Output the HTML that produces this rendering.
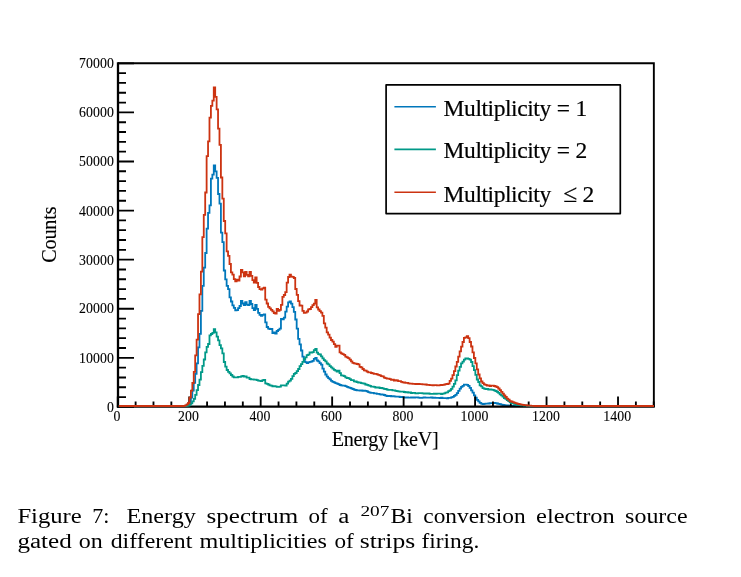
<!DOCTYPE html>
<html lang="en">
<head>
<meta charset="utf-8">
<title>Figure 7: Energy spectrum of a 207Bi conversion electron source</title>
<style>
html,body{margin:0;padding:0;background:#fff;}
body{width:741px;height:577px;overflow:hidden;font-family:"Liberation Serif",serif;}
svg{display:block;}
</style>
</head>
<body>
<svg width="741" height="577" viewBox="0 0 741 577">
<rect width="741" height="577" fill="#fff"/>
<g fill="none" stroke-width="1.8" stroke-linejoin="miter">
<path stroke="#0077bb" d="M118.80,406.0H185.18V405.8H186.61V405.2H188.04V404.1H189.47V402.3H190.90V397.5H192.33V390.5H193.75V382.8H195.18V373.8H196.61V363.4H198.04V347.4H199.47V333.8H200.90V310.9H202.33V285.8H203.76V267.7H205.19V253.0H206.62V228.6H208.05V212.8H209.48V205.3H210.91V178.7H212.34V174.7H213.77V165.5H215.19V171.3H216.62V177.9H218.05V194.0H219.48V203.6H220.91V232.7H222.34V242.2H223.77V270.5H225.20V279.4H226.63V285.8H228.06V289.1H229.49V297.4H230.92V301.5H232.35V305.3H233.78V307.8H235.21V310.4H236.63V310.1H238.06V308.1H239.49V306.0H240.92V300.8H242.35V303.5H243.78V305.2H245.21V302.2H246.64V304.7H248.07V305.1H249.50V300.8H250.93V304.0H252.36V308.1H253.79V310.2H255.22V304.9H256.65V308.9H258.07V312.9H259.50V314.8H260.93V315.8H262.36V314.9H263.79V314.3H265.22V322.4H266.65V327.0H268.08V328.7H269.51V329.0H270.94V328.8H272.37V333.1H273.80V332.5H275.23V333.5H276.66V331.0H278.09V329.9H279.51V328.7H280.94V318.9H282.37V319.4H283.80V317.6H285.23V311.7H286.66V306.6H288.09V302.3H289.52V301.4H290.95V303.7H292.38V307.1H293.81V311.9H295.24V319.5H296.67V328.6H298.10V338.8H299.53V344.4H300.95V350.5H302.38V356.6H303.81V361.1H305.24V362.1H306.67V363.2H308.10V362.4H309.53V361.9H310.96V361.7H312.39V360.8H313.82V358.9H315.25V357.8H316.68V360.5H318.11V361.3H319.54V363.2H320.97V364.7H322.39V368.6H323.82V371.7H325.25V374.5H326.68V376.6H328.11V378.2H329.54V379.4H330.97V380.8H332.40V381.8H333.83V382.4H335.26V383.1H336.69V383.6H338.12V384.1H339.55V385.0H340.98V385.3H342.41V385.6H343.83V385.7H345.26V386.1H346.69V386.8H348.12V387.3H349.55V387.9H350.98V388.3H352.41V389.0H353.84V389.6H355.27V390.0H356.70V390.4H358.13V390.4H359.56V390.6H360.99V390.5H362.42V390.8H363.85V390.7H365.27V390.9H366.70V391.4H368.13V392.2H369.56V392.6H370.99V392.9H373.85V393.3H375.28V393.3H376.71V393.9H379.57V394.3H381.00V394.5H382.43V394.6H383.86V395.0H385.29V395.6H386.71V396.0H388.14V395.8H389.57V396.0H391.00V396.3H392.43V396.2H393.86V396.3H395.29V396.6H396.72V396.7H399.58V397.1H401.01V397.0H402.44V397.2H403.87V397.5H405.30V397.7H406.73V397.4H408.15V397.6H409.58V397.7H411.01V397.4H412.44V397.5H415.30V397.4H418.16V397.6H419.59V397.8H422.45V397.6H423.88V397.4H425.31V397.6H428.17V397.7H431.02V397.5H432.45V397.8H433.88V397.6H435.31V397.8H436.74V397.9H439.60V398.2H441.03V397.7H442.46V398.1H443.89V398.2H445.32V398.1H446.75V398.3H448.18V397.9H449.61V397.9H451.03V397.4H452.46V396.9H453.89V395.9H455.32V394.9H456.75V393.1H458.18V390.9H459.61V388.6H461.04V386.9H462.47V385.8H463.90V384.7H466.76V384.9H468.19V386.0H469.62V387.8H471.05V390.4H472.47V392.7H473.90V395.4H475.33V397.7H476.76V399.8H478.19V401.4H479.62V402.9H481.05V403.6H482.48V404.0H483.91V403.8H485.34V403.7H486.77V403.6H488.20V403.5H489.63V403.2H491.06V403.1H493.91V403.0H495.34V403.1H496.77V403.5H498.20V403.9H499.63V404.2H501.06V404.6H502.49V405.0H503.92V405.2H505.35V405.3H506.78V405.5H508.21V405.6H509.64V405.8H511.07V405.9H512.50V406.0H654.00"/>
</g>
<g fill="none" stroke="#000">
<path d="M118.0,63.3H653.85V406.9" stroke-width="1.9"/>
<path d="M118.0,62.349999999999994V407.79999999999995" stroke-width="2.3"/>
<path d="M116.9,406.65H654.8" stroke-width="2.3"/>
<path d="M118.0,406.9h16M118.0,397.08h8M118.0,387.27h8M118.0,377.45h8M118.0,367.63h8M118.0,357.81h16M118.0,348h8M118.0,338.18h8M118.0,328.36h8M118.0,318.55h8M118.0,308.73h16M118.0,298.91h8M118.0,289.09h8M118.0,279.28h8M118.0,269.46h8M118.0,259.64h16M118.0,249.83h8M118.0,240.01h8M118.0,230.19h8M118.0,220.37h8M118.0,210.56h16M118.0,200.74h8M118.0,190.92h8M118.0,181.11h8M118.0,171.29h8M118.0,161.47h16M118.0,151.65h8M118.0,141.84h8M118.0,132.02h8M118.0,122.2h8M118.0,112.39h16M118.0,102.57h8M118.0,92.75h8M118.0,82.93h8M118.0,73.12h8M118.0,63.3h16" stroke-width="1.85"/>
<path d="M117.75,406.9v-10.3M135.62,406.9v-5.4M153.48,406.9v-5.4M171.35,406.9v-5.4M189.22,406.9v-10.3M207.08,406.9v-5.4M224.95,406.9v-5.4M242.82,406.9v-5.4M260.68,406.9v-10.3M278.55,406.9v-5.4M296.42,406.9v-5.4M314.28,406.9v-5.4M332.15,406.9v-10.3M350.02,406.9v-5.4M367.88,406.9v-5.4M385.75,406.9v-5.4M403.62,406.9v-10.3M421.48,406.9v-5.4M439.35,406.9v-5.4M457.22,406.9v-5.4M475.08,406.9v-10.3M492.95,406.9v-5.4M510.82,406.9v-5.4M528.68,406.9v-5.4M546.55,406.9v-10.3M564.42,406.9v-5.4M582.28,406.9v-5.4M600.15,406.9v-5.4M618.02,406.9v-10.3M635.88,406.9v-5.4M653.75,406.9v-5.4" stroke-width="1.85"/>
</g>
<g fill="none" stroke-width="1.8" stroke-linejoin="miter">
<path stroke="#009988" d="M118.80,406.0H186.61V405.9H188.04V405.5H189.47V404.7H190.90V403.4H192.33V401.3H193.75V398.8H195.18V394.9H196.61V390.2H198.04V385.0H199.47V379.7H200.90V372.1H202.33V365.9H203.76V359.5H205.19V352.3H206.62V346.8H208.05V344.0H209.48V335.4H210.91V334.0H212.34V332.8H213.77V329.2H215.19V332.4H216.62V336.7H218.05V340.3H219.48V345.1H220.91V348.4H222.34V353.3H223.77V362.0H225.20V366.6H226.63V370.0H228.06V371.9H229.49V373.3H230.92V375.0H232.35V376.5H233.78V377.4H238.06V376.9H239.49V376.8H240.92V376.3H242.35V375.8H243.78V376.5H245.21V376.4H246.64V377.6H248.07V377.7H249.50V379.0H250.93V379.3H253.79V379.7H255.22V379.6H256.65V380.1H258.07V380.7H259.50V380.8H260.93V381.2H262.36V380.2H263.79V379.9H265.22V383.3H266.65V383.8H268.08V384.5H269.51V385.4H270.94V385.6H272.37V386.4H273.80V386.1H275.23V386.4H276.66V386.8H278.09V386.9H279.51V386.7H280.94V385.3H283.80V385.4H285.23V385.7H286.66V383.6H288.09V381.6H289.52V380.6H290.95V378.8H292.38V376.2H293.81V373.8H295.24V373.0H296.67V371.2H298.10V369.0H299.53V366.2H300.95V364.1H302.38V361.9H303.81V359.0H305.24V357.4H306.67V355.2H308.10V354.6H309.53V352.3H310.96V352.7H312.39V352.1H313.82V350.2H315.25V349.0H316.68V352.7H318.11V354.1H319.54V354.5H320.97V356.3H322.39V358.3H323.82V360.2H325.25V361.3H326.68V363.5H328.11V364.3H329.54V366.2H330.97V367.4H332.40V368.6H333.83V369.9H335.26V370.7H336.69V371.5H338.12V370.7H339.55V373.1H340.98V375.3H342.41V375.7H343.83V376.2H345.26V377.3H346.69V378.0H348.12V378.1H349.55V379.1H350.98V380.1H352.41V380.2H353.84V381.3H355.27V381.5H356.70V382.2H358.13V382.5H359.56V382.6H360.99V383.1H362.42V383.3H363.85V383.7H365.27V384.5H366.70V384.9H368.13V385.3H369.56V385.9H370.99V386.6H372.42V386.6H373.85V386.9H375.28V387.5H379.57V388.2H381.00V387.9H382.43V388.4H383.86V388.8H385.29V389.0H386.71V389.6H388.14V389.9H391.00V389.8H392.43V390.4H393.86V390.3H395.29V390.9H396.72V391.2H398.15V391.3H399.58V391.7H403.87V392.0H405.30V392.4H406.73V392.1H408.15V392.6H409.58V392.5H411.01V393.2H412.44V392.8H415.30V393.3H418.16V393.1H419.59V393.2H421.02V393.1H422.45V393.3H423.88V393.5H426.74V393.5H429.59V393.8H431.02V393.9H433.88V393.6H435.31V393.8H436.74V393.6H439.60V393.7H441.03V394.0H442.46V393.6H443.89V393.3H445.32V392.7H446.75V392.4H448.18V391.1H449.61V390.4H451.03V388.8H452.46V386.7H453.89V383.9H455.32V380.3H456.75V375.2H458.18V370.7H459.61V366.9H461.04V363.4H462.47V361.7H463.90V359.7H465.33V358.5H466.76V358.4H468.19V358.9H469.62V359.6H471.05V362.0H472.47V366.1H473.90V370.2H475.33V374.8H476.76V379.5H478.19V382.0H479.62V385.4H481.05V386.4H482.48V388.1H483.91V388.7H485.34V389.2H486.77V388.8H488.20V389.6H489.63V389.4H491.06V389.6H492.49V389.9H493.91V390.3H495.34V391.0H496.77V391.8H498.20V392.9H499.63V394.3H501.06V395.4H502.49V396.7H503.92V398.1H505.35V398.9H506.78V400.1H508.21V401.1H509.64V402.1H511.07V403.0H512.50V403.4H513.93V403.9H515.35V404.5H516.78V404.8H518.21V404.9H519.64V405.1H521.07V405.3H522.50V405.4H523.93V405.5H525.36V405.7H526.79V405.8H528.22V405.9H529.65V406.0H654.00"/>
<path stroke="#cc3311" d="M118.80,406.0H183.75V405.8H185.18V405.3H186.61V404.3H188.04V403.0H189.47V397.6H190.90V390.6H192.33V383.0H193.75V371.8H195.18V355.4H196.61V339.7H198.04V314.1H199.47V294.4H200.90V271.7H202.33V237.2H203.76V214.9H205.19V192.5H206.62V156.2H208.05V141.4H209.48V117.6H210.91V105.9H212.34V100.6H213.77V87.4H215.19V96.9H216.62V109.4H218.05V128.6H219.48V144.8H220.91V177.5H222.34V198.6H223.77V221.0H225.20V233.4H226.63V251.3H228.06V255.9H229.49V264.0H230.92V272.4H232.35V274.6H233.78V279.2H235.21V281.3H236.63V279.6H238.06V280.7H239.49V276.5H240.92V270.0H242.35V272.4H243.78V276.4H245.21V272.0H246.64V274.8H248.07V276.3H249.50V272.0H250.93V275.8H252.36V280.2H253.79V282.7H255.22V277.4H256.65V282.8H258.07V287.0H259.50V289.1H260.93V289.7H262.36V288.3H263.79V287.6H265.22V299.7H266.65V303.5H268.08V306.9H269.51V308.4H270.94V309.8H272.37V311.4H273.80V313.0H275.23V313.6H276.66V308.8H278.09V310.9H279.51V309.9H280.94V304.8H282.37V296.8H283.80V295.0H285.23V292.1H286.66V282.6H288.09V277.0H289.52V274.6H290.95V276.7H292.38V276.9H293.81V278.0H295.24V289.0H296.67V294.8H298.10V301.1H299.53V305.5H300.95V305.6H302.38V310.9H303.81V312.9H305.24V312.7H306.67V311.5H308.10V309.4H309.53V309.0H310.96V307.2H312.39V305.1H313.82V303.6H315.25V300.0H316.68V307.3H318.11V309.5H319.54V311.1H320.97V312.7H322.39V315.9H323.82V323.3H325.25V327.6H326.68V332.3H328.11V334.7H329.54V337.7H330.97V340.0H332.40V341.7H333.83V344.1H335.26V346.8H336.69V345.7H339.55V352.4H340.98V353.4H342.41V354.2H343.83V354.9H345.26V356.6H346.69V357.3H348.12V358.2H349.55V359.7H350.98V361.4H352.41V362.9H353.84V363.4H355.27V363.6H356.70V364.0H358.13V364.3H359.56V366.8H360.99V367.4H362.42V369.0H363.85V370.3H365.27V370.6H366.70V371.6H368.13V372.3H369.56V372.4H370.99V373.0H372.42V373.3H373.85V373.8H375.28V373.9H376.71V374.3H378.14V374.8H379.57V375.4H381.00V376.2H382.43V376.4H383.86V377.6H385.29V378.1H386.71V378.6H389.57V379.1H391.00V379.8H392.43V379.7H393.86V380.5H395.29V380.2H396.72V380.5H398.15V381.1H401.01V381.8H402.44V382.3H403.87V382.5H405.30V382.8H406.73V382.9H408.15V383.4H409.58V383.6H412.44V383.8H415.30V384.0H418.16V384.0H419.59V384.1H421.02V384.2H422.45V384.3H423.88V384.4H425.31V384.5H426.74V384.9H428.17V384.8H429.59V385.1H432.45V385.4H433.88V385.1H435.31V385.2H436.74V385.4H439.60V385.2H441.03V385.0H442.46V384.9H443.89V384.6H445.32V384.1H446.75V384.0H448.18V383.7H449.61V380.9H451.03V378.7H452.46V375.2H453.89V371.2H455.32V366.5H456.75V361.9H458.18V356.6H459.61V351.4H461.04V346.6H462.47V342.0H463.90V337.8H465.33V337.3H466.76V336.1H468.19V338.1H469.62V342.0H471.05V346.5H472.47V352.3H473.90V358.0H475.33V363.3H476.76V369.3H478.19V374.5H479.62V378.3H481.05V381.5H482.48V383.2H483.91V384.4H485.34V384.9H486.77V385.7H488.20V385.4H489.63V386.0H491.06V385.6H493.91V386.0H495.34V386.5H496.77V387.1H498.20V388.5H499.63V390.2H501.06V391.9H502.49V393.7H503.92V395.3H505.35V397.0H506.78V398.7H508.21V399.7H509.64V401.1H511.07V401.5H512.50V402.1H513.93V402.7H515.35V403.2H516.78V403.6H518.21V404.0H519.64V404.3H521.07V404.6H522.50V404.9H523.93V405.1H525.36V405.2H526.79V405.5H528.22V405.6H529.65V405.7H531.08V405.8H532.51V405.9H533.94V406.0H654.00"/>
</g>
<g font-family="'Liberation Serif', serif" font-size="13.8" letter-spacing="0.1" fill="#000" stroke="#000" stroke-width="0.1">
<text x="114" y="411.7" text-anchor="end">0</text>
<text x="114" y="363.1" text-anchor="end">10000</text>
<text x="114" y="313.3" text-anchor="end">20000</text>
<text x="114" y="265.1" text-anchor="end">30000</text>
<text x="114" y="216.1" text-anchor="end">40000</text>
<text x="114" y="166.1" text-anchor="end">50000</text>
<text x="114" y="116.8" text-anchor="end">60000</text>
<text x="114" y="67.9" text-anchor="end">70000</text>
<text x="117.1" y="420.9" text-anchor="middle">0</text>
<text x="188.57" y="420.9" text-anchor="middle">200</text>
<text x="260.03" y="420.9" text-anchor="middle">400</text>
<text x="331.5" y="420.9" text-anchor="middle">600</text>
<text x="402.97" y="420.9" text-anchor="middle">800</text>
<text x="474.43" y="420.9" text-anchor="middle">1000</text>
<text x="545.9" y="420.9" text-anchor="middle">1200</text>
<text x="617.37" y="420.9" text-anchor="middle">1400</text>
</g>
<g font-family="'Liberation Serif', serif" font-size="20.2" fill="#000" stroke="#000" stroke-width="0.1">
<text x="385.1" y="446" text-anchor="middle" letter-spacing="-0.27">Energy [keV]</text>
<text transform="translate(56.3,234.7) rotate(-90)" text-anchor="middle" letter-spacing="-0.15">Counts</text>
</g>
<rect x="386.1" y="84.9" width="234.2" height="128.7" fill="#fff" stroke="#000" stroke-width="1.7" stroke-linejoin="round"/>
<g fill="none" stroke-width="1.65">
<path stroke="#0077bb" d="M394.4,106.75H435.9"/>
<path stroke="#009988" d="M394.4,149.35H435.9"/>
<path stroke="#cc3311" d="M394.4,192.25H435.9"/>
</g>
<g font-family="'Liberation Serif', serif" font-size="23.5" fill="#000" stroke="#000" stroke-width="0.2">
<text y="115.6"><tspan x="443.6" letter-spacing="-0.43">Multiplicity</tspan> <tspan x="556.7">=</tspan> <tspan x="575.4">1</tspan></text>
<text y="158.3"><tspan x="443.6" letter-spacing="-0.43">Multiplicity</tspan> <tspan x="556.7">=</tspan> <tspan x="575.4">2</tspan></text>
<text y="201.5"><tspan x="443.6" letter-spacing="-0.43">Multiplicity</tspan> <tspan x="563.3" font-size="25.5">≤</tspan> <tspan x="582.5">2</tspan></text>
</g>
<g font-family="'Liberation Serif', serif" font-size="20" fill="#000">
<text><tspan x="17.4" y="523" textLength="64.4" lengthAdjust="spacingAndGlyphs">Figure</tspan> <tspan x="92.2" y="523" textLength="17.2" lengthAdjust="spacingAndGlyphs">7:</tspan> <tspan x="126.6" y="523" textLength="69.2" lengthAdjust="spacingAndGlyphs">Energy</tspan> <tspan x="206.6" y="523" textLength="91.6" lengthAdjust="spacingAndGlyphs">spectrum</tspan> <tspan x="308.6" y="523" textLength="19.2" lengthAdjust="spacingAndGlyphs">of</tspan> <tspan x="338.3" y="523" textLength="11.1" lengthAdjust="spacingAndGlyphs">a</tspan> <tspan x="360.4" y="516" font-size="15" textLength="29" lengthAdjust="spacingAndGlyphs">207</tspan><tspan x="390.5" y="523" textLength="22.3" lengthAdjust="spacingAndGlyphs">Bi</tspan> <tspan x="423.3" y="523" textLength="102.4" lengthAdjust="spacingAndGlyphs">conversion</tspan> <tspan x="536.1" y="523" textLength="78.7" lengthAdjust="spacingAndGlyphs">electron</tspan> <tspan x="625.1" y="523" textLength="62.5" lengthAdjust="spacingAndGlyphs">source</tspan></text>
<text><tspan x="17.4" y="547.9" textLength="54.3" lengthAdjust="spacingAndGlyphs">gated</tspan> <tspan x="78.7" y="547.9" textLength="24" lengthAdjust="spacingAndGlyphs">on</tspan> <tspan x="110.7" y="547.9" textLength="81.7" lengthAdjust="spacingAndGlyphs">different</tspan> <tspan x="199.4" y="547.9" textLength="127.4" lengthAdjust="spacingAndGlyphs">multiplicities</tspan> <tspan x="334.5" y="547.9" textLength="19.3" lengthAdjust="spacingAndGlyphs">of</tspan> <tspan x="359.8" y="547.9" textLength="55.4" lengthAdjust="spacingAndGlyphs">strips</tspan> <tspan x="421.6" y="547.9" textLength="57.7" lengthAdjust="spacingAndGlyphs">firing.</tspan></text>
</g>
</svg>
</body>
</html>
